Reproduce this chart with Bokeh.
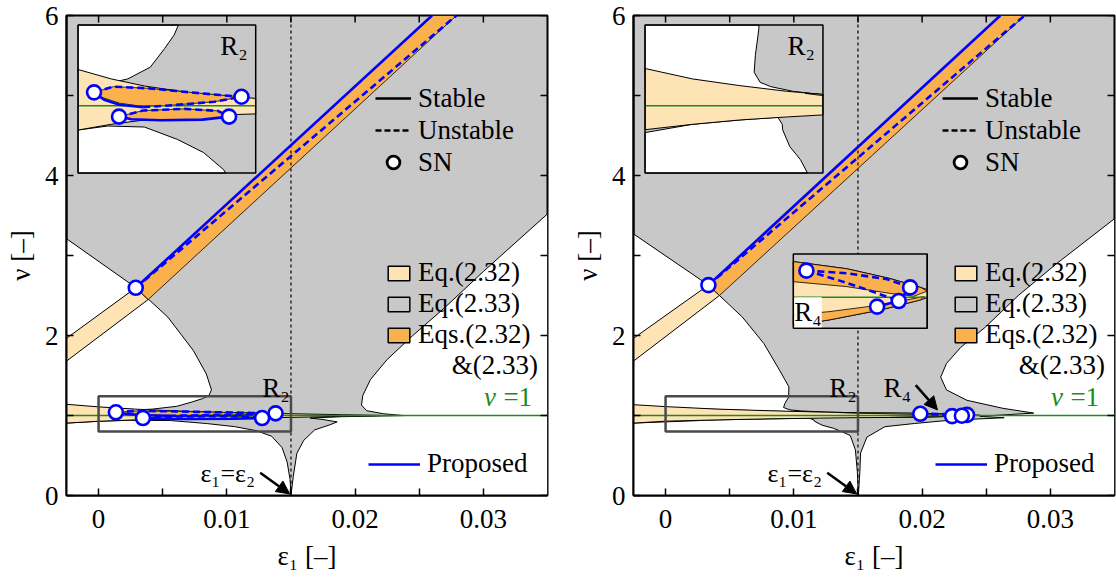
import numpy as np
from bokeh.plotting import figure
from bokeh.layouts import row
from bokeh.models import (Range1d, FixedTicker, Label, Arrow, NormalHead,
                          Legend, LegendItem, CustomJSTickFormatter)
from bokeh.embed import file_html
from bokeh.resources import INLINE

FONT = "Liberation Serif"
FS = "27px"
GRAY = "#c8c8c8"
LORANGE = "#fee3b4"
ORANGE = "#fbb04e"
BLUE = "#0000ff"
GREEN = "#1a8c1a"

# ---------------- axes / ticks ----------------
X_RANGE = (-0.0025, 0.035)
Y_RANGE = (0.0, 6.0)
X_TICKS = [0, 0.01, 0.02, 0.03]
X_MINOR = [0.005, 0.015, 0.025]
Y_TICKS = [0, 2, 4, 6]
Y_MINOR = [1, 3, 5]
E12 = 0.015          # eps1 = eps2
NU1 = 1.0            # nu = 1 line

# ---------------- windows (zoom regions) ----------------
R2_WIN = (0.0, 0.015, 0.8, 1.24)
R4_WIN = (0.0194, 0.0241, 0.975, 1.035)
L_R2_BOX = (-0.0016, 0.01225, 4.03, 5.88)
R_R2_BOX = (-0.0016, 0.01227, 4.03, 5.88)
R_R4_BOX = (0.00996, 0.0204, 2.09, 3.02)

# ---------------- left panel geometry ----------------
L_SN_DIAG = (0.0029, 2.596)
L_DIAG_LOW = [(-0.0025, 1.965), L_SN_DIAG, (0.00387, 2.45), (-0.0025, 1.68)]      # Eq.(2.32) only
L_DIAG_HIGH = [L_SN_DIAG, (0.0260, 6.0), (0.0279, 6.0), (0.00387, 2.45)]          # both
L_WHITE_UL = [(-0.0025, 3.21), (0.0029, 2.60), (-0.0025, 1.90)]
L_LOBE = [(-0.0025, 1.13), (-0.0025, 1.80), (0.0029, 2.60), (0.0054, 2.23), (0.0074, 1.81),
          (0.0084, 1.52), (0.0088, 1.32), (0.0086, 1.25), (0.0081, 1.21), (0.0073, 1.17),
          (0.0061, 1.115), (0.0042, 1.08), (0.0032, 1.072), (0.0, 1.10)]
L_WHITE_LOW = [(-0.0025, 0.0), (-0.0025, 0.905), (0.0, 0.928), (0.0025, 0.94), (0.0056, 0.937),
               (0.0084, 0.90), (0.0106, 0.861), (0.0123, 0.81), (0.0135, 0.74), (0.0143, 0.60),
               (0.0147, 0.42), (0.01493, 0.20), (0.015, 0.0), (0.01518, 0.237), (0.01546, 0.527),
               (0.016, 0.69), (0.01685, 0.82), (0.01797, 0.88), (0.0186, 0.92), (0.0175, 0.95),
               (0.0165, 0.968), (0.019, 0.985), (0.0238, 0.999), (0.0222, 1.022), (0.0209, 1.06),
               (0.0205, 1.13), (0.0206, 1.25), (0.0212, 1.45), (0.0225, 1.70), (0.0245, 2.0),
               (0.027, 2.35), (0.030, 2.80), (0.035, 3.52), (0.035, 0.0)]
L_BAND_UP = [(-0.0025, 1.14), (0.0, 1.108), (0.0028, 1.08), (0.0056, 1.059), (0.0098, 1.037),
             (0.015, 1.022), (0.019, 1.01), (0.022, 1.001)]
L_BAND_LO = [(0.022, 0.999), (0.019, 0.99), (0.015, 0.976), (0.0098, 0.970), (0.0056, 0.958),
             (0.0028, 0.945), (0.0, 0.928), (-0.0025, 0.905)]
L_LOBE_UP = [(0.00135, 1.040), (0.003, 1.057), (0.006, 1.052), (0.0095, 1.040), (0.012, 1.032),
             (0.0138, 1.027), (0.0115, 1.012), (0.008, 1.002), (0.0055, 0.998), (0.0035, 1.008),
             (0.002, 1.025)]
L_LOBE_LO = [(0.00346, 0.968), (0.0055, 0.986), (0.009, 0.991), (0.0118, 0.985), (0.01275, 0.968),
             (0.0105, 0.959), (0.007, 0.957), (0.0045, 0.960)]
L_SOLID = [[L_SN_DIAG, (0.0260, 6.0)],
           [(0.00135, 1.040), (0.0022, 1.018), (0.0035, 1.003), (0.0055, 0.996)],
           [(0.00346, 0.968), (0.0045, 0.960), (0.007, 0.957), (0.0105, 0.959), (0.01275, 0.968)]]
L_DASHED = [[L_SN_DIAG, (0.0279, 6.0)],
            [(0.00135, 1.040), (0.003, 1.057), (0.006, 1.052), (0.0095, 1.040), (0.012, 1.032), (0.0138, 1.027)],
            [(0.0055, 0.996), (0.008, 1.002), (0.0115, 1.012), (0.0138, 1.027)],
            [(0.00346, 0.968), (0.0055, 0.986), (0.009, 0.991), (0.0118, 0.985), (0.01275, 0.968)]]
L_SN = [L_SN_DIAG, (0.00135, 1.040), (0.0138, 1.027), (0.00346, 0.968), (0.01275, 0.968)]

# ---------------- right panel geometry ----------------
R_SN_DIAG = (0.00334, 2.63)
R_DIAG_LOW = [(-0.0025, 1.965), R_SN_DIAG, (0.0042, 2.50), (-0.0025, 1.68)]
R_DIAG_HIGH = [R_SN_DIAG, (0.0261, 6.0), (0.0280, 6.0), (0.0042, 2.50)]
R_WHITE_UL = [(-0.0025, 3.27), (0.00334, 2.63), (-0.0025, 1.90)]
R_LOBE = [(-0.0025, 1.125), (-0.0025, 1.80), (0.00334, 2.63), (0.00599, 2.23), (0.00766, 1.90),
          (0.00891, 1.56), (0.00961, 1.36), (0.0096, 1.23), (0.0093, 1.15), (0.0092, 1.10),
          (0.0097, 1.07), (0.0106, 1.057), (0.0125, 1.043), (0.015, 1.033), (0.015, 1.028),
          (0.008, 1.055), (0.0, 1.10)]
R_WHITE_LOW = [(-0.0025, 0.0), (-0.0025, 0.905), (0.004, 0.945), (0.008, 0.958), (0.0112, 0.966),
               (0.01157, 0.945), (0.0116, 0.929), (0.0122, 0.879), (0.0131, 0.84), (0.0137, 0.80),
               (0.0144, 0.75), (0.0148, 0.57), (0.01495, 0.30), (0.01503, 0.0), (0.01515, 0.30),
               (0.0152, 0.53), (0.0157, 0.73), (0.0171, 0.86), (0.0194, 0.90), (0.0221, 0.94),
               (0.0264, 0.972), (0.0245, 0.99), (0.0287, 1.03), (0.0263, 1.09), (0.0235, 1.19),
               (0.0219, 1.32), (0.02145, 1.48), (0.0219, 1.65), (0.0230, 1.85), (0.0249, 2.1),
               (0.0275, 2.5), (0.0305, 2.9), (0.035, 3.46), (0.035, 0.0)]
R_BAND_UP = [(-0.0025, 1.135), (0.0, 1.111), (0.004, 1.08), (0.008, 1.06), (0.012, 1.043),
             (0.015, 1.034), (0.0194, 1.0288), (0.02128, 1.023), (0.02278, 1.0152),
             (0.02387, 1.008), (0.0245, 1.003)]
R_BAND_LO = [(0.02387, 0.9979), (0.02246, 0.9898), (0.02065, 0.9817), (0.0194, 0.9774),
             (0.015, 0.973), (0.012, 0.967), (0.008, 0.958), (0.004, 0.945), (0.0, 0.929),
             (-0.0025, 0.905)]
R_ORANGE_UP = [(0.0135, 1.037), (0.015, 1.034), (0.0194, 1.0288), (0.02128, 1.023), (0.02278, 1.0152),
               (0.02387, 1.008), (0.0241, 1.005), (0.02363, 1.0008), (0.02278, 1.0032),
               (0.02128, 1.0086), (0.0194, 1.0126), (0.017, 1.022), (0.015, 1.030)]
R_ORANGE_LO = [(0.0175, 0.9755), (0.0194, 0.9858), (0.02065, 0.9884), (0.02246, 0.9938),
               (0.02398, 1.0006), (0.02387, 0.9979), (0.02246, 0.9898), (0.02065, 0.9817),
               (0.0194, 0.9774)]
R_C1, R_C2, R_C3, R_C4 = (0.01986, 1.0215), (0.0235, 1.008), (0.02234, 0.9925), (0.0231, 0.997)
R_SOLID = [[R_SN_DIAG, (0.0261, 6.0)], [R_C3, R_C4, R_C2]]
R_DASHED = [[R_SN_DIAG, (0.0280, 6.0)],
            [R_C1, (0.02128, 1.0194), (0.02269, 1.0146), R_C2],
            [R_C1, (0.02095, 1.014), (0.02199, 1.0062), R_C4]]
R_SN = [R_SN_DIAG, R_C1, R_C2, R_C3, R_C4]


# ---------------- helpers ----------------
def clip_poly(pts, x0, x1, y0, y1):
    def step(pts, inside, inter):
        out = []
        for i in range(len(pts)):
            cur, prev = pts[i], pts[i - 1]
            if inside(cur):
                if not inside(prev):
                    out.append(inter(prev, cur))
                out.append(cur)
            elif inside(prev):
                out.append(inter(prev, cur))
        return out

    def ix(xc):
        return lambda p, q: (xc, p[1] + (q[1] - p[1]) * (xc - p[0]) / (q[0] - p[0]))

    def iy(yc):
        return lambda p, q: (p[0] + (q[0] - p[0]) * (yc - p[1]) / (q[1] - p[1]), yc)

    for inside, inter in [(lambda p: p[0] >= x0, ix(x0)), (lambda p: p[0] <= x1, ix(x1)),
                          (lambda p: p[1] >= y0, iy(y0)), (lambda p: p[1] <= y1, iy(y1))]:
        if not pts:
            break
        pts = step(pts, inside, inter)
    return pts


def clip_seg(p, q, x0, x1, y0, y1):
    dx, dy = q[0] - p[0], q[1] - p[1]
    t0, t1 = 0.0, 1.0
    for pk, qk in ((-dx, p[0] - x0), (dx, x1 - p[0]), (-dy, p[1] - y0), (dy, y1 - p[1])):
        if pk == 0:
            if qk < 0:
                return None
        else:
            t = qk / pk
            if pk < 0:
                t0 = max(t0, t)
            else:
                t1 = min(t1, t)
    if t0 > t1:
        return None
    return (p[0] + t0 * dx, p[1] + t0 * dy), (p[0] + t1 * dx, p[1] + t1 * dy)


def clip_line(pts, x0, x1, y0, y1):
    pieces, cur = [], []
    for p, q in zip(pts[:-1], pts[1:]):
        s = clip_seg(p, q, x0, x1, y0, y1)
        if s is None:
            if cur:
                pieces.append(cur)
                cur = []
            continue
        a, b = s
        if cur and abs(cur[-1][0] - a[0]) < 1e-12 and abs(cur[-1][1] - a[1]) < 1e-12:
            cur.append(b)
        else:
            if cur:
                pieces.append(cur)
            cur = [a, b]
    if cur:
        pieces.append(cur)
    return pieces


def tf(pts, win, box):
    x0, x1, y0, y1 = win
    X0, X1, Y0, Y1 = box
    return [(X0 + (x - x0) / (x1 - x0) * (X1 - X0), Y0 + (y - y0) / (y1 - y0) * (Y1 - Y0)) for x, y in pts]


def draw_polys(p, plist, win, box, **kw):
    for poly in plist:
        q = poly if win is None else tf(clip_poly(list(poly), *win), win, box)
        if len(q) >= 3:
            p.patch([a for a, _ in q], [b for _, b in q], **kw)


def draw_lines(p, llist, win, box, **kw):
    for ln in llist:
        pieces = [ln] if win is None else [tf(s, win, box) for s in clip_line(ln, *win)]
        for s in pieces:
            p.line([a for a, _ in s], [b for _, b in s], **kw)


def draw_content(p, g, win=None, box=None):
    draw_polys(p, g["white"], win, box, fill_color="white", line_color="black", line_width=1)
    draw_polys(p, g["lorange"], win, box, fill_color=LORANGE, line_color="black", line_width=1)
    draw_polys(p, g["orange"], win, box, fill_color=ORANGE, line_color="black", line_width=0.8)
    draw_lines(p, [[(X_RANGE[0], NU1), (X_RANGE[1], NU1)]], win, box, line_color=GREEN, line_width=1.5)
    if win is None:
        p.line([E12, E12], [Y_RANGE[0], Y_RANGE[1]], line_color="black", line_width=1.2, line_dash="3 3")
    draw_lines(p, g["solid"], win, box, line_color=BLUE, line_width=2.6)
    draw_lines(p, g["dashed"], win, box, line_color=BLUE, line_width=2.6, line_dash="7 4")
    pts = g["sn"]
    if win is not None:
        x0, x1, y0, y1 = win
        pts = tf([q for q in pts if x0 <= q[0] <= x1 and y0 <= q[1] <= y1], win, box)
    if pts:
        p.scatter([a for a, _ in pts], [b for _, b in pts], marker="circle", size=14,
                  fill_color="white", line_color=BLUE, line_width=2.6)


def draw_inset(p, g, win, box, label, corner):
    X0, X1, Y0, Y1 = box
    p.quad(left=[X0], right=[X1], bottom=[Y0], top=[Y1], fill_color=GRAY, line_color=None)
    draw_content(p, g, win, box)
    p.quad(left=[X0], right=[X1], bottom=[Y0], top=[Y1], fill_color=None, line_color="black", line_width=1.5)
    if corner == "tr":
        p.add_layout(Label(x=X1, y=Y1, x_offset=-8, y_offset=-6, text=label, text_align="right",
                           text_baseline="top", text_font=FONT, text_font_size=FS, text_color="black"))
    else:
        p.add_layout(Label(x=X0, y=Y0, x_offset=1, y_offset=1, text=label, text_align="left",
                           text_baseline="bottom", text_font=FONT, text_font_size=FS, text_color="black",
                           background_fill_color="white"))


def make_panel(g, width, border_left, border_right, insets, r4=False):
    p = figure(width=width, height=579, x_range=Range1d(*X_RANGE), y_range=Range1d(*Y_RANGE),
               output_backend="svg", toolbar_location=None,
               min_border_left=border_left, min_border_right=border_right,
               min_border_top=15, min_border_bottom=84)
    p.background_fill_color = GRAY
    p.border_fill_color = "white"
    p.outline_line_color = "black"
    p.outline_line_width = 2
    p.grid.visible = False
    xax = p.below[0]
    yax = p.left[0]
    xax.ticker = FixedTicker(ticks=X_TICKS, minor_ticks=X_MINOR)
    yax.ticker = FixedTicker(ticks=Y_TICKS, minor_ticks=Y_MINOR)
    xax.formatter = CustomJSTickFormatter(code="return String(Math.round(tick*1000)/1000);")
    xax.axis_label = "ε₁ [–]"
    yax.axis_label = "ν [–]"
    for ax in [xax, yax]:
        ax.major_tick_in = 7
        ax.major_tick_out = 0
        ax.minor_tick_in = 7
        ax.minor_tick_out = 0
        ax.axis_line_width = 2
        ax.major_tick_line_width = 1.5
        ax.minor_tick_line_width = 1.5
        ax.major_label_text_font = FONT
        ax.major_label_text_font_size = FS
        ax.major_label_text_color = "black"
        ax.axis_label_text_font = FONT
        ax.axis_label_text_font_size = FS
        ax.axis_label_text_font_style = "normal"
        ax.axis_label_text_color = "black"
    xax.major_label_standoff = 14
    xax.axis_label_standoff = 10
    yax.major_label_standoff = 8
    yax.axis_label_standoff = 6

    # main content
    draw_content(p, g)
    # mirrored inward ticks on top and right edges (outer half clipped by the frame)
    p.scatter(X_TICKS + X_MINOR, [Y_RANGE[1]] * 7, marker="dash", angle=np.pi / 2, size=14,
              line_color="black", line_width=1.5)
    p.scatter([X_RANGE[1]] * 7, Y_TICKS + Y_MINOR, marker="dash", size=14,
              line_color="black", line_width=1.5)
    # R2 rectangle
    x0, x1, y0, y1 = R2_WIN
    p.quad(left=[x0], right=[x1], bottom=[y0], top=[y1], fill_color=None, line_color="#4a4a4a", line_width=2.5)
    # insets
    for (win, box, label, corner) in insets:
        draw_inset(p, g, win, box, label, corner)

    # annotations
    p.add_layout(Label(x=0.0149, y=1.34, text="R₂", text_align="right", text_baseline="alphabetic",
                       text_font=FONT, text_font_size=FS, text_color="black"))
    p.add_layout(Label(x=0.0122, y=0.28, text="ε₁=ε₂", text_align="right", text_baseline="middle",
                       text_font=FONT, text_font_size="26px", text_color="black"))
    p.add_layout(Arrow(end=NormalHead(size=13, fill_color="black", line_color="black"),
                       x_start=0.0126, y_start=0.285, x_end=0.0149, y_end=0.02,
                       line_color="black", line_width=2.5))
    if r4:
        p.add_layout(Label(x=0.0170, y=1.34, text="R₄", text_align="left", text_baseline="alphabetic",
                           text_font=FONT, text_font_size=FS, text_color="black"))
        p.add_layout(Arrow(end=NormalHead(size=13, fill_color="black", line_color="black"),
                           x_start=0.0195, y_start=1.38, x_end=0.0212, y_end=1.07,
                           line_color="black", line_width=2.5))
    p.add_layout(Label(x=0.03425, y=1.63, text="&(2.33)", text_align="right", text_baseline="middle",
                       text_font=FONT, text_font_size=FS, text_color="black"))
    p.add_layout(Label(x=0.0338, y=1.235, text="=1", text_align="right", text_baseline="middle",
                       text_font=FONT, text_font_size=FS, text_color=GREEN))
    p.add_layout(Label(x=0.0338, y=1.235, x_offset=-36, text="ν", text_align="right", text_baseline="middle",
                       text_font=FONT, text_font_size=FS, text_font_style="italic", text_color=GREEN))

    # legend proxies (NaN data: nothing drawn in the plot itself)
    nan = [np.nan]
    r_st = p.line(nan, nan, line_color="black", line_width=2.5)
    r_un = p.line(nan, nan, line_color="black", line_width=2.5, line_dash="6 3")
    r_sn = p.scatter(nan, nan, marker="circle", size=12, fill_color="white", line_color="black", line_width=2.8)
    r_e1 = p.quad(left=nan, right=nan, top=nan, bottom=nan, fill_color=LORANGE, line_color="black", line_width=1.5)
    r_e2 = p.quad(left=nan, right=nan, top=nan, bottom=nan, fill_color=GRAY, line_color="black", line_width=1.5)
    r_e3 = p.quad(left=nan, right=nan, top=nan, bottom=nan, fill_color=ORANGE, line_color="black", line_width=1.5)
    r_pr = p.line(nan, nan, line_color=BLUE, line_width=2.6)

    def leg(items, loc, gw, gh, lh, standoff, spacing):
        L = Legend(items=items, location=loc, glyph_width=gw, glyph_height=gh, label_height=lh,
                   label_standoff=standoff, spacing=spacing, padding=0, margin=0,
                   border_line_color=None, background_fill_alpha=0,
                   label_text_font=FONT, label_text_font_size=FS, label_text_color="black")
        p.add_layout(L, "center")

    leg([LegendItem(label="Stable", renderers=[r_st]), LegendItem(label="Unstable", renderers=[r_un]),
         LegendItem(label="SN", renderers=[r_sn])], (309, 317), 36, 32, 26, 7, -2)
    leg([LegendItem(label="Eq.(2.32)", renderers=[r_e1]), LegendItem(label="Eq.(2.33)", renderers=[r_e2]),
         LegendItem(label="Eqs.(2.32)", renderers=[r_e3])], (319, 145), 27, 18, 25, 6, -2)
    leg([LegendItem(label="Proposed", renderers=[r_pr])], (302, 16), 52, 26, 26, 7, 0)
    return p


G_LEFT = dict(white=[L_WHITE_UL, L_LOBE, L_WHITE_LOW],
              lorange=[L_DIAG_LOW, L_BAND_UP + L_BAND_LO],
              orange=[L_DIAG_HIGH, L_LOBE_UP, L_LOBE_LO],
              solid=L_SOLID, dashed=L_DASHED, sn=L_SN)
G_RIGHT = dict(white=[R_WHITE_UL, R_LOBE, R_WHITE_LOW],
               lorange=[R_DIAG_LOW, R_BAND_UP + R_BAND_LO],
               orange=[R_DIAG_HIGH, R_ORANGE_UP, R_ORANGE_LO],
               solid=R_SOLID, dashed=R_DASHED, sn=R_SN)

p1 = make_panel(G_LEFT, 560, 66, 13, [(R2_WIN, L_R2_BOX, "R₂", "tr")])
p2 = make_panel(G_RIGHT, 556, 73, 2, [(R2_WIN, R_R2_BOX, "R₂", "tr"), (R4_WIN, R_R4_BOX, "R₄", "bl")], r4=True)

layout = row(p1, p2)
open("out.html", "w").write(file_html(layout, INLINE))
